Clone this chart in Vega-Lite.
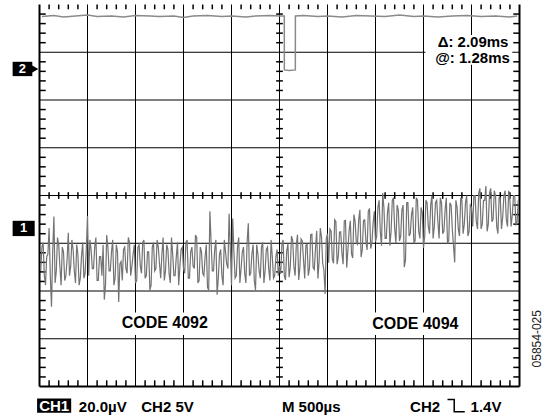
{
  "$schema": "https://vega.github.io/schema/vega-lite/v6.json",
  "width": 480,
  "height": 382,
  "autosize": "none",
  "padding": {"left": 39.5, "top": 4.5, "right": 24.5, "bottom": 30.5},
  "background": "#ffffff",
  "config": {"view": {"stroke": null}},
  "datasets": {
    "ch1": [
      {"x":0.025,"y":2.42},{"x":0.05,"y":2.92},{"x":0.075,"y":3.02},{"x":0.1,"y":2.32},{"x":0.125,"y":2.12},{"x":0.15,"y":2.72},{"x":0.175,"y":2.77},{"x":0.2,"y":3.32},{"x":0.225,"y":2.32},{"x":0.25,"y":1.67},
      {"x":0.275,"y":2.82},{"x":0.3,"y":3.56},{"x":0.325,"y":2.17},{"x":0.35,"y":2.42},{"x":0.375,"y":3.12},{"x":0.4,"y":2.97},{"x":0.425,"y":2.52},{"x":0.45,"y":2.12},{"x":0.475,"y":2.92},{"x":0.5,"y":2.82},
      {"x":0.525,"y":2.22},{"x":0.55,"y":2.32},{"x":0.575,"y":2.67},{"x":0.6,"y":3.22},{"x":0.625,"y":2.32},{"x":0.65,"y":2.52},{"x":0.675,"y":3.07},{"x":0.7,"y":2.87},{"x":0.725,"y":2.42},{"x":0.75,"y":2.17},
      {"x":0.775,"y":2.97},{"x":0.8,"y":2.77},{"x":0.825,"y":2.12},{"x":0.85,"y":2.27},{"x":0.875,"y":2.72},{"x":0.9,"y":3.02},{"x":0.925,"y":2.27},{"x":0.95,"y":2.37},{"x":0.975,"y":2.87},{"x":1.0,"y":3.57},
      {"x":1.025,"y":2.32},{"x":1.05,"y":3.07},{"x":1.075,"y":2.87},{"x":1.1,"y":2.47},{"x":1.125,"y":2.47},{"x":1.15,"y":2.92},{"x":1.175,"y":3.12},{"x":1.2,"y":2.22},{"x":1.225,"y":2.22},{"x":1.25,"y":2.72},
      {"x":1.275,"y":2.72},{"x":1.3,"y":2.32},{"x":1.325,"y":2.97},{"x":1.35,"y":1.82},{"x":1.375,"y":2.12},{"x":1.4,"y":3.17},{"x":1.425,"y":2.92},{"x":1.45,"y":2.42},{"x":1.475,"y":2.42},{"x":1.5,"y":2.82},
      {"x":1.525,"y":3.07},{"x":1.55,"y":2.12},{"x":1.575,"y":2.27},{"x":1.6,"y":2.97},{"x":1.625,"y":2.82},{"x":1.65,"y":1.77},{"x":1.675,"y":2.57},{"x":1.7,"y":2.62},{"x":1.725,"y":2.22},{"x":1.75,"y":2.87},
      {"x":1.775,"y":2.92},{"x":1.8,"y":2.47},{"x":1.825,"y":2.37},{"x":1.85,"y":3.12},{"x":1.875,"y":3.02},{"x":1.9,"y":2.32},{"x":1.925,"y":2.52},{"x":1.95,"y":2.77},{"x":1.975,"y":2.97},{"x":2.0,"y":2.17},
      {"x":2.025,"y":2.22},{"x":2.05,"y":2.92},{"x":2.075,"y":2.97},{"x":2.1,"y":2.52},{"x":2.125,"y":2.37},{"x":2.15,"y":3.02},{"x":2.175,"y":3.07},{"x":2.2,"y":2.27},{"x":2.225,"y":2.32},{"x":2.25,"y":2.82},
      {"x":2.275,"y":2.82},{"x":2.3,"y":2.02},{"x":2.325,"y":2.12},{"x":2.35,"y":2.92},{"x":2.375,"y":3.02},{"x":2.4,"y":2.42},{"x":2.425,"y":2.47},{"x":2.45,"y":3.07},{"x":2.475,"y":2.92},{"x":2.5,"y":2.57},
      {"x":2.525,"y":2.27},{"x":2.55,"y":2.77},{"x":2.575,"y":3.12},{"x":2.6,"y":2.22},{"x":2.625,"y":2.42},{"x":2.65,"y":2.97},{"x":2.675,"y":2.87},{"x":2.7,"y":2.37},{"x":2.725,"y":2.17},{"x":2.75,"y":3.12},
      {"x":2.775,"y":2.77},{"x":2.8,"y":2.32},{"x":2.825,"y":2.32},{"x":2.85,"y":2.72},{"x":2.875,"y":3.02},{"x":2.9,"y":2.12},{"x":2.925,"y":2.52},{"x":2.95,"y":2.87},{"x":2.975,"y":2.92},{"x":3.0,"y":2.47},
      {"x":3.025,"y":2.37},{"x":3.05,"y":3.02},{"x":3.075,"y":3.07},{"x":3.1,"y":2.27},{"x":3.125,"y":2.27},{"x":3.15,"y":2.82},{"x":3.175,"y":2.92},{"x":3.2,"y":2.52},{"x":3.225,"y":2.47},{"x":3.25,"y":3.17},
      {"x":3.275,"y":3.12},{"x":3.3,"y":2.17},{"x":3.325,"y":2.22},{"x":3.35,"y":2.92},{"x":3.375,"y":2.82},{"x":3.4,"y":2.37},{"x":3.425,"y":2.32},{"x":3.45,"y":2.72},{"x":3.475,"y":2.97},{"x":3.5,"y":2.07},
      {"x":3.525,"y":2.02},{"x":3.55,"y":3.67},{"x":3.575,"y":3.02},{"x":3.6,"y":2.42},{"x":3.625,"y":2.42},{"x":3.65,"y":2.87},{"x":3.675,"y":3.07},{"x":3.7,"y":1.92},{"x":3.725,"y":2.27},{"x":3.75,"y":2.77},
      {"x":3.775,"y":2.87},{"x":3.8,"y":2.32},{"x":3.825,"y":2.12},{"x":3.85,"y":3.07},{"x":3.875,"y":2.82},{"x":3.9,"y":2.57},{"x":3.925,"y":2.47},{"x":3.95,"y":3.62},{"x":3.975,"y":2.92},{"x":4.0,"y":2.12},
      {"x":4.025,"y":3.52},{"x":4.05,"y":2.82},{"x":4.075,"y":2.27},{"x":4.1,"y":2.32},{"x":4.125,"y":2.92},{"x":4.15,"y":3.12},{"x":4.175,"y":2.17},{"x":4.2,"y":2.47},{"x":4.225,"y":2.82},{"x":4.25,"y":2.92},
      {"x":4.275,"y":2.37},{"x":4.3,"y":2.17},{"x":4.325,"y":3.02},{"x":4.35,"y":3.42},{"x":4.375,"y":2.32},{"x":4.4,"y":2.37},{"x":4.425,"y":2.77},{"x":4.45,"y":2.97},{"x":4.475,"y":2.22},{"x":4.5,"y":2.02},
      {"x":4.525,"y":2.97},{"x":4.55,"y":2.77},{"x":4.575,"y":2.42},{"x":4.6,"y":2.27},{"x":4.625,"y":2.92},{"x":4.65,"y":3.02},{"x":4.675,"y":2.17},{"x":4.7,"y":2.42},{"x":4.725,"y":2.87},{"x":4.75,"y":2.92},
      {"x":4.775,"y":2.47},{"x":4.8,"y":2.22},{"x":4.825,"y":3.07},{"x":4.85,"y":2.72},{"x":4.875,"y":2.27},{"x":4.9,"y":2.32},{"x":4.925,"y":2.72},{"x":4.95,"y":2.87},{"x":4.975,"y":2.32},{"x":5.0,"y":2.52},
      {"x":5.025,"y":2.36},{"x":5.05,"y":2.96},{"x":5.075,"y":3.07},{"x":5.1,"y":2.32},{"x":5.125,"y":2.23},{"x":5.15,"y":2.83},{"x":5.175,"y":2.99},{"x":5.2,"y":2.29},{"x":5.225,"y":2.5},{"x":5.25,"y":3.15},
      {"x":5.275,"y":3.06},{"x":5.3,"y":2.51},{"x":5.325,"y":2.32},{"x":5.35,"y":2.97},{"x":5.375,"y":3.18},{"x":5.4,"y":2.23},{"x":5.425,"y":2.49},{"x":5.45,"y":3.09},{"x":5.475,"y":3.05},{"x":5.5,"y":2.65},
      {"x":5.525,"y":2.26},{"x":5.55,"y":2.96},{"x":5.575,"y":2.97},{"x":5.6,"y":2.32},{"x":5.625,"y":2.48},{"x":5.65,"y":3.18},{"x":5.675,"y":3.19},{"x":5.7,"y":2.49},{"x":5.725,"y":2.45},{"x":5.75,"y":2.9},
      {"x":5.775,"y":3.26},{"x":5.8,"y":2.26},{"x":5.825,"y":2.62},{"x":5.85,"y":3.32},{"x":5.875,"y":3.13},{"x":5.9,"y":2.58},{"x":5.925,"y":2.44},{"x":5.95,"y":1.94},{"x":5.975,"y":3.1},{"x":6.0,"y":3.2},
      {"x":6.025,"y":2.59},{"x":6.05,"y":3.3},{"x":6.075,"y":3.26},{"x":6.1,"y":2.67},{"x":6.125,"y":2.58},{"x":6.15,"y":3.49},{"x":6.175,"y":3.45},{"x":6.2,"y":2.56},{"x":6.225,"y":2.72},{"x":6.25,"y":3.23},
      {"x":6.275,"y":3.24},{"x":6.3,"y":2.8},{"x":6.325,"y":2.56},{"x":6.35,"y":3.47},{"x":6.375,"y":3.48},{"x":6.4,"y":2.49},{"x":6.425,"y":2.85},{"x":6.45,"y":3.26},{"x":6.475,"y":3.47},{"x":6.5,"y":2.78},
      {"x":6.525,"y":2.69},{"x":6.55,"y":3.6},{"x":6.575,"y":3.46},{"x":6.6,"y":3.02},{"x":6.625,"y":2.98},{"x":6.65,"y":3.49},{"x":6.675,"y":3.7},{"x":6.7,"y":2.71},{"x":6.725,"y":2.87},{"x":6.75,"y":3.48},
      {"x":6.775,"y":3.49},{"x":6.8,"y":3.05},{"x":6.825,"y":2.86},{"x":6.85,"y":3.67},{"x":6.875,"y":3.73},{"x":6.9,"y":2.89},{"x":6.925,"y":3.0},{"x":6.95,"y":3.41},{"x":6.975,"y":3.67},{"x":7.0,"y":3.03},
      {"x":7.025,"y":3.15},{"x":7.05,"y":3.75},{"x":7.075,"y":3.9},{"x":7.1,"y":3.25},{"x":7.125,"y":2.95},{"x":7.15,"y":4.05},{"x":7.175,"y":3.75},{"x":7.2,"y":3.1},{"x":7.225,"y":3.1},{"x":7.25,"y":3.65},
      {"x":7.275,"y":3.85},{"x":7.3,"y":2.95},{"x":7.325,"y":3.25},{"x":7.35,"y":3.9},{"x":7.375,"y":3.95},{"x":7.4,"y":3.3},{"x":7.425,"y":3.0},{"x":7.45,"y":3.8},{"x":7.475,"y":3.7},{"x":7.5,"y":3.05},
      {"x":7.525,"y":3.15},{"x":7.55,"y":3.7},{"x":7.575,"y":3.8},{"x":7.6,"y":2.5},{"x":7.625,"y":2.65},{"x":7.65,"y":3.85},{"x":7.675,"y":3.85},{"x":7.7,"y":3.15},{"x":7.725,"y":3.2},{"x":7.75,"y":3.6},
      {"x":7.775,"y":3.75},{"x":7.8,"y":3.0},{"x":7.825,"y":3.05},{"x":7.85,"y":3.95},{"x":7.875,"y":3.9},{"x":7.9,"y":3.25},{"x":7.925,"y":3.1},{"x":7.95,"y":3.75},{"x":7.975,"y":3.65},{"x":8.0,"y":2.9},
      {"x":8.025,"y":3.15},{"x":8.05,"y":3.9},{"x":8.075,"y":3.85},{"x":8.1,"y":3.35},{"x":8.125,"y":3.2},{"x":8.15,"y":3.8},{"x":8.175,"y":4.0},{"x":8.2,"y":3.1},{"x":8.225,"y":3.35},{"x":8.25,"y":3.85},
      {"x":8.275,"y":3.9},{"x":8.3,"y":3.45},{"x":8.325,"y":3.1},{"x":8.35,"y":3.95},{"x":8.375,"y":3.85},{"x":8.4,"y":3.2},{"x":8.425,"y":3.25},{"x":8.45,"y":3.7},{"x":8.475,"y":3.95},{"x":8.5,"y":3.0},
      {"x":8.525,"y":3.05},{"x":8.55,"y":3.85},{"x":8.575,"y":3.8},{"x":8.6,"y":3.3},{"x":8.625,"y":2.95},{"x":8.65,"y":2.6},{"x":8.675,"y":3.9},{"x":8.7,"y":3.75},{"x":8.725,"y":3.3},{"x":8.75,"y":3.15},
      {"x":8.775,"y":3.95},{"x":8.8,"y":3.9},{"x":8.825,"y":3.2},{"x":8.85,"y":3.4},{"x":8.875,"y":3.85},{"x":8.9,"y":4.0},{"x":8.925,"y":3.15},{"x":8.95,"y":3.25},{"x":8.975,"y":3.8},{"x":9.0,"y":3.75},
      {"x":9.025,"y":3.35},{"x":9.05,"y":4.0},{"x":9.075,"y":4.0},{"x":9.1,"y":3.45},{"x":9.125,"y":3.3},{"x":9.15,"y":4.05},{"x":9.175,"y":4.15},{"x":9.2,"y":3.3},{"x":9.225,"y":3.4},{"x":9.25,"y":3.9},
      {"x":9.275,"y":3.9},{"x":9.3,"y":4.2},{"x":9.325,"y":3.25},{"x":9.35,"y":3.4},{"x":9.375,"y":4.05},{"x":9.4,"y":4.15},{"x":9.425,"y":3.45},{"x":9.45,"y":3.5},{"x":9.475,"y":4.1},{"x":9.5,"y":4.0},
      {"x":9.525,"y":3.35},{"x":9.55,"y":3.2},{"x":9.575,"y":3.95},{"x":9.6,"y":3.95},{"x":9.625,"y":3.3},{"x":9.65,"y":3.55},{"x":9.675,"y":4.0},{"x":9.7,"y":4.1},{"x":9.725,"y":3.5},{"x":9.75,"y":3.35},
      {"x":9.775,"y":4.1},{"x":9.8,"y":3.9},{"x":9.825,"y":3.35},{"x":9.85,"y":3.6},{"x":9.875,"y":4.0},{"x":9.9,"y":4.0},{"x":9.925,"y":3.4},{"x":9.95,"y":3.45},{"x":9.975,"y":3.9}
    ],
    "ch2": [
      {"x":0.05,"y":7.75},{"x":0.3,"y":7.77},{"x":0.5,"y":7.74},{"x":0.75,"y":7.76},{"x":1.0,"y":7.78},{"x":1.2,"y":7.75},{"x":1.5,"y":7.76},{"x":1.75,"y":7.74},{"x":2.0,"y":7.77},{"x":2.3,"y":7.76},
      {"x":2.5,"y":7.75},{"x":2.8,"y":7.76},{"x":3.0,"y":7.73},{"x":3.2,"y":7.76},{"x":3.5,"y":7.77},{"x":3.8,"y":7.75},{"x":4.0,"y":7.76},{"x":4.3,"y":7.74},{"x":4.5,"y":7.76},{"x":4.8,"y":7.77},
      {"x":5.0,"y":7.76},{"x":5.1,"y":7.76},{"x":5.101,"y":6.63},{"x":5.2,"y":6.62},{"x":5.33,"y":6.63},{"x":5.331,"y":7.76},{"x":5.5,"y":7.77},{"x":5.8,"y":7.75},{"x":6.0,"y":7.76},{"x":6.3,"y":7.74},
      {"x":6.6,"y":7.77},{"x":6.9,"y":7.76},{"x":7.2,"y":7.75},{"x":7.5,"y":7.78},{"x":7.8,"y":7.75},{"x":8.0,"y":7.76},{"x":8.3,"y":7.74},{"x":8.6,"y":7.76},{"x":8.9,"y":7.77},{"x":9.2,"y":7.75},
      {"x":9.5,"y":7.76},{"x":9.8,"y":7.74},{"x":9.95,"y":7.76}
    ]
  },
  "encoding": {
    "x": {"field": "x", "type": "quantitative", "scale": {"domain": [0, 10], "nice": false, "zero": false}, "axis": null},
    "y": {"field": "y", "type": "quantitative", "scale": {"domain": [0, 8], "nice": false, "zero": false}, "axis": null}
  },
  "layer": [
    {
      "data": {"values": [{"x":1,"y":0,"y2":8},{"x":2,"y":0,"y2":8},{"x":3,"y":0,"y2":8},{"x":4,"y":0,"y2":8},{"x":5,"y":0,"y2":8},{"x":6,"y":0,"y2":8},{"x":7,"y":0,"y2":8},{"x":8,"y":0,"y2":8},{"x":9,"y":0,"y2":8}]},
      "mark": {"type": "rule", "color": "#000000", "strokeWidth": 1},
      "encoding": {"y2": {"field": "y2"}}
    },
    {
      "data": {"values": [{"x":0,"x2":10,"y":1},{"x":0,"x2":10,"y":2},{"x":0,"x2":10,"y":3},{"x":0,"x2":10,"y":4},{"x":0,"x2":10,"y":5},{"x":0,"x2":10,"y":6},{"x":0,"x2":10,"y":7}]},
      "mark": {"type": "rule", "color": "#000000", "strokeWidth": 1},
      "encoding": {"x2": {"field": "x2"}}
    },
    {
      "data": {"values": [
        {"x":0.2,"y":0,"y2":0.13},{"x":0.4,"y":0,"y2":0.13},{"x":0.6,"y":0,"y2":0.13},{"x":0.8,"y":0,"y2":0.13},{"x":1.2,"y":0,"y2":0.13},{"x":1.4,"y":0,"y2":0.13},{"x":1.6,"y":0,"y2":0.13},{"x":1.8,"y":0,"y2":0.13},
        {"x":2.2,"y":0,"y2":0.13},{"x":2.4,"y":0,"y2":0.13},{"x":2.6,"y":0,"y2":0.13},{"x":2.8,"y":0,"y2":0.13},{"x":3.2,"y":0,"y2":0.13},{"x":3.4,"y":0,"y2":0.13},{"x":3.6,"y":0,"y2":0.13},{"x":3.8,"y":0,"y2":0.13},
        {"x":4.2,"y":0,"y2":0.13},{"x":4.4,"y":0,"y2":0.13},{"x":4.6,"y":0,"y2":0.13},{"x":4.8,"y":0,"y2":0.13},{"x":5.2,"y":0,"y2":0.13},{"x":5.4,"y":0,"y2":0.13},{"x":5.6,"y":0,"y2":0.13},{"x":5.8,"y":0,"y2":0.13},
        {"x":6.2,"y":0,"y2":0.13},{"x":6.4,"y":0,"y2":0.13},{"x":6.6,"y":0,"y2":0.13},{"x":6.8,"y":0,"y2":0.13},{"x":7.2,"y":0,"y2":0.13},{"x":7.4,"y":0,"y2":0.13},{"x":7.6,"y":0,"y2":0.13},{"x":7.8,"y":0,"y2":0.13},
        {"x":8.2,"y":0,"y2":0.13},{"x":8.4,"y":0,"y2":0.13},{"x":8.6,"y":0,"y2":0.13},{"x":8.8,"y":0,"y2":0.13},{"x":9.2,"y":0,"y2":0.13},{"x":9.4,"y":0,"y2":0.13},{"x":9.6,"y":0,"y2":0.13},{"x":9.8,"y":0,"y2":0.13},
        {"x":0.2,"y":7.9,"y2":8},{"x":0.4,"y":7.9,"y2":8},{"x":0.6,"y":7.9,"y2":8},{"x":0.8,"y":7.9,"y2":8},{"x":1.2,"y":7.9,"y2":8},{"x":1.4,"y":7.9,"y2":8},{"x":1.6,"y":7.9,"y2":8},{"x":1.8,"y":7.9,"y2":8},
        {"x":2.2,"y":7.9,"y2":8},{"x":2.4,"y":7.9,"y2":8},{"x":2.6,"y":7.9,"y2":8},{"x":2.8,"y":7.9,"y2":8},{"x":3.2,"y":7.9,"y2":8},{"x":3.4,"y":7.9,"y2":8},{"x":3.6,"y":7.9,"y2":8},{"x":3.8,"y":7.9,"y2":8},
        {"x":4.2,"y":7.9,"y2":8},{"x":4.4,"y":7.9,"y2":8},{"x":4.6,"y":7.9,"y2":8},{"x":4.8,"y":7.9,"y2":8},{"x":5.2,"y":7.9,"y2":8},{"x":5.4,"y":7.9,"y2":8},{"x":5.6,"y":7.9,"y2":8},{"x":5.8,"y":7.9,"y2":8},
        {"x":6.2,"y":7.9,"y2":8},{"x":6.4,"y":7.9,"y2":8},{"x":6.6,"y":7.9,"y2":8},{"x":6.8,"y":7.9,"y2":8},{"x":7.2,"y":7.9,"y2":8},{"x":7.4,"y":7.9,"y2":8},{"x":7.6,"y":7.9,"y2":8},{"x":7.8,"y":7.9,"y2":8},
        {"x":8.2,"y":7.9,"y2":8},{"x":8.4,"y":7.9,"y2":8},{"x":8.6,"y":7.9,"y2":8},{"x":8.8,"y":7.9,"y2":8},{"x":9.2,"y":7.9,"y2":8},{"x":9.4,"y":7.9,"y2":8},{"x":9.6,"y":7.9,"y2":8},{"x":9.8,"y":7.9,"y2":8},
        {"x":0.2,"y":3.93,"y2":4.07},{"x":0.4,"y":3.93,"y2":4.07},{"x":0.6,"y":3.93,"y2":4.07},{"x":0.8,"y":3.93,"y2":4.07},{"x":1.2,"y":3.93,"y2":4.07},{"x":1.4,"y":3.93,"y2":4.07},{"x":1.6,"y":3.93,"y2":4.07},{"x":1.8,"y":3.93,"y2":4.07},
        {"x":2.2,"y":3.93,"y2":4.07},{"x":2.4,"y":3.93,"y2":4.07},{"x":2.6,"y":3.93,"y2":4.07},{"x":2.8,"y":3.93,"y2":4.07},{"x":3.2,"y":3.93,"y2":4.07},{"x":3.4,"y":3.93,"y2":4.07},{"x":3.6,"y":3.93,"y2":4.07},{"x":3.8,"y":3.93,"y2":4.07},
        {"x":4.2,"y":3.93,"y2":4.07},{"x":4.4,"y":3.93,"y2":4.07},{"x":4.6,"y":3.93,"y2":4.07},{"x":4.8,"y":3.93,"y2":4.07},{"x":5.2,"y":3.93,"y2":4.07},{"x":5.4,"y":3.93,"y2":4.07},{"x":5.6,"y":3.93,"y2":4.07},{"x":5.8,"y":3.93,"y2":4.07},
        {"x":6.2,"y":3.93,"y2":4.07},{"x":6.4,"y":3.93,"y2":4.07},{"x":6.6,"y":3.93,"y2":4.07},{"x":6.8,"y":3.93,"y2":4.07},{"x":7.2,"y":3.93,"y2":4.07},{"x":7.4,"y":3.93,"y2":4.07},{"x":7.6,"y":3.93,"y2":4.07},{"x":7.8,"y":3.93,"y2":4.07},
        {"x":8.2,"y":3.93,"y2":4.07},{"x":8.4,"y":3.93,"y2":4.07},{"x":8.6,"y":3.93,"y2":4.07},{"x":8.8,"y":3.93,"y2":4.07},{"x":9.2,"y":3.93,"y2":4.07},{"x":9.4,"y":3.93,"y2":4.07},{"x":9.6,"y":3.93,"y2":4.07},{"x":9.8,"y":3.93,"y2":4.07}
      ]},
      "mark": {"type": "rule", "color": "#000000", "strokeWidth": 1.5},
      "encoding": {"y2": {"field": "y2"}}
    },
    {
      "data": {"values": [
        {"x":0,"x2":0.13,"y":0.2},{"x":0,"x2":0.13,"y":0.4},{"x":0,"x2":0.13,"y":0.6},{"x":0,"x2":0.13,"y":0.8},{"x":0,"x2":0.13,"y":1.2},{"x":0,"x2":0.13,"y":1.4},{"x":0,"x2":0.13,"y":1.6},{"x":0,"x2":0.13,"y":1.8},
        {"x":0,"x2":0.13,"y":2.2},{"x":0,"x2":0.13,"y":2.4},{"x":0,"x2":0.13,"y":2.6},{"x":0,"x2":0.13,"y":2.8},{"x":0,"x2":0.13,"y":3.2},{"x":0,"x2":0.13,"y":3.4},{"x":0,"x2":0.13,"y":3.6},{"x":0,"x2":0.13,"y":3.8},
        {"x":0,"x2":0.13,"y":4.2},{"x":0,"x2":0.13,"y":4.4},{"x":0,"x2":0.13,"y":4.6},{"x":0,"x2":0.13,"y":4.8},{"x":0,"x2":0.13,"y":5.2},{"x":0,"x2":0.13,"y":5.4},{"x":0,"x2":0.13,"y":5.6},{"x":0,"x2":0.13,"y":5.8},
        {"x":0,"x2":0.13,"y":6.2},{"x":0,"x2":0.13,"y":6.4},{"x":0,"x2":0.13,"y":6.6},{"x":0,"x2":0.13,"y":6.8},{"x":0,"x2":0.13,"y":7.2},{"x":0,"x2":0.13,"y":7.4},{"x":0,"x2":0.13,"y":7.6},{"x":0,"x2":0.13,"y":7.8},
        {"x":9.87,"x2":10,"y":0.2},{"x":9.87,"x2":10,"y":0.4},{"x":9.87,"x2":10,"y":0.6},{"x":9.87,"x2":10,"y":0.8},{"x":9.87,"x2":10,"y":1.2},{"x":9.87,"x2":10,"y":1.4},{"x":9.87,"x2":10,"y":1.6},{"x":9.87,"x2":10,"y":1.8},
        {"x":9.87,"x2":10,"y":2.2},{"x":9.87,"x2":10,"y":2.4},{"x":9.87,"x2":10,"y":2.6},{"x":9.87,"x2":10,"y":2.8},{"x":9.87,"x2":10,"y":3.2},{"x":9.87,"x2":10,"y":3.4},{"x":9.87,"x2":10,"y":3.6},{"x":9.87,"x2":10,"y":3.8},
        {"x":9.87,"x2":10,"y":4.2},{"x":9.87,"x2":10,"y":4.4},{"x":9.87,"x2":10,"y":4.6},{"x":9.87,"x2":10,"y":4.8},{"x":9.87,"x2":10,"y":5.2},{"x":9.87,"x2":10,"y":5.4},{"x":9.87,"x2":10,"y":5.6},{"x":9.87,"x2":10,"y":5.8},
        {"x":9.87,"x2":10,"y":6.2},{"x":9.87,"x2":10,"y":6.4},{"x":9.87,"x2":10,"y":6.6},{"x":9.87,"x2":10,"y":6.8},{"x":9.87,"x2":10,"y":7.2},{"x":9.87,"x2":10,"y":7.4},{"x":9.87,"x2":10,"y":7.6},{"x":9.87,"x2":10,"y":7.8},
        {"x":4.93,"x2":5.07,"y":0.2},{"x":4.93,"x2":5.07,"y":0.4},{"x":4.93,"x2":5.07,"y":0.6},{"x":4.93,"x2":5.07,"y":0.8},{"x":4.93,"x2":5.07,"y":1.2},{"x":4.93,"x2":5.07,"y":1.4},{"x":4.93,"x2":5.07,"y":1.6},{"x":4.93,"x2":5.07,"y":1.8},
        {"x":4.93,"x2":5.07,"y":2.2},{"x":4.93,"x2":5.07,"y":2.4},{"x":4.93,"x2":5.07,"y":2.6},{"x":4.93,"x2":5.07,"y":2.8},{"x":4.93,"x2":5.07,"y":3.2},{"x":4.93,"x2":5.07,"y":3.4},{"x":4.93,"x2":5.07,"y":3.6},{"x":4.93,"x2":5.07,"y":3.8},
        {"x":4.93,"x2":5.07,"y":4.2},{"x":4.93,"x2":5.07,"y":4.4},{"x":4.93,"x2":5.07,"y":4.6},{"x":4.93,"x2":5.07,"y":4.8},{"x":4.93,"x2":5.07,"y":5.2},{"x":4.93,"x2":5.07,"y":5.4},{"x":4.93,"x2":5.07,"y":5.6},{"x":4.93,"x2":5.07,"y":5.8},
        {"x":4.93,"x2":5.07,"y":6.2},{"x":4.93,"x2":5.07,"y":6.4},{"x":4.93,"x2":5.07,"y":6.6},{"x":4.93,"x2":5.07,"y":6.8},{"x":4.93,"x2":5.07,"y":7.2},{"x":4.93,"x2":5.07,"y":7.4},{"x":4.93,"x2":5.07,"y":7.6},{"x":4.93,"x2":5.07,"y":7.8}
      ]},
      "mark": {"type": "rule", "color": "#000000", "strokeWidth": 1.5},
      "encoding": {"x2": {"field": "x2"}}
    },
    {
      "data": {"values": [{"x":0,"y":0,"y2":8},{"x":10,"y":0,"y2":8}]},
      "mark": {"type": "rule", "color": "#000000", "strokeWidth": 2},
      "encoding": {"y2": {"field": "y2"}}
    },
    {
      "data": {"values": [{"x":0,"x2":10,"y":0}]},
      "mark": {"type": "rule", "color": "#000000", "strokeWidth": 2},
      "encoding": {"x2": {"field": "x2"}}
    },
    {
      "data": {"values": [{"x":1.67,"x2":3.57,"y":1.08,"y2":1.55},{"x":6.89,"x2":8.77,"y":1.08,"y2":1.55},{"x":8.04,"x2":9.85,"y":6.74,"y2":7.36}]},
      "mark": {"type": "rect", "color": "#ffffff", "opacity": 1},
      "encoding": {"x2": {"field": "x2"}, "y2": {"field": "y2"}}
    },
    {
      "data": {"name": "ch2"},
      "mark": {"type": "line", "color": "#8a8a8a", "strokeWidth": 1.5, "strokeJoin": "miter"}
    },
    {
      "data": {"name": "ch1"},
      "mark": {"type": "line", "color": "#737373", "strokeWidth": 1.2, "strokeJoin": "miter"}
    },
    {
      "data": {"values": [{"x":-0.56,"x2":-0.15,"y":6.8,"y2":6.5},{"x":-0.56,"x2":-0.1,"y":3.47,"y2":3.15},{"x":-0.05,"x2":0.66,"y":-0.25,"y2":-0.55}]},
      "mark": {"type": "rect", "color": "#000000", "opacity": 1},
      "encoding": {"x2": {"field": "x2"}, "y2": {"field": "y2"}}
    },
    {
      "data": {"values": [{"x":-0.11,"y":6.65}]},
      "mark": {"type": "point", "shape": "triangle-right", "filled": true, "color": "#000000", "opacity": 1, "size": 90}
    },
    {
      "data": {"values": [{"x":-0.355,"y":6.65,"t":"2"},{"x":-0.33,"y":3.31,"t":"1"}]},
      "mark": {"type": "text", "color": "#ffffff", "font": "Liberation Sans", "fontWeight": "bold", "fontSize": 13, "align": "center", "baseline": "middle"},
      "encoding": {"text": {"field": "t"}}
    },
    {
      "data": {"values": [{"x":0.305,"y":-0.41,"t":"CH1"}]},
      "mark": {"type": "text", "color": "#ffffff", "font": "Liberation Sans", "fontWeight": "bold", "fontSize": 15, "align": "center", "baseline": "middle"},
      "encoding": {"text": {"field": "t"}}
    },
    {
      "data": {"values": [{"x":0.82,"y":-0.42,"t":"20.0µV"},{"x":2.12,"y":-0.42,"t":"CH2 5V"},{"x":5.05,"y":-0.42,"t":"M 500µs"},{"x":7.72,"y":-0.42,"t":"CH2"},{"x":8.98,"y":-0.42,"t":"1.4V"}]},
      "mark": {"type": "text", "color": "#000000", "font": "Liberation Sans", "fontWeight": "bold", "fontSize": 15, "align": "left", "baseline": "middle"},
      "encoding": {"text": {"field": "t"}}
    },
    {
      "data": {"values": [{"i":1,"x":8.5,"y":-0.27},{"i":2,"x":8.64,"y":-0.27},{"i":3,"x":8.64,"y":-0.53},{"i":4,"x":8.86,"y":-0.53}]},
      "mark": {"type": "line", "color": "#000000", "strokeWidth": 1.5, "clip": false},
      "encoding": {"order": {"field": "i"}}
    },
    {
      "data": {"values": [{"x":9.77,"y":7.22,"t":"Δ: 2.09ms"},{"x":9.8,"y":6.88,"t":"@: 1.28ms"}]},
      "mark": {"type": "text", "color": "#000000", "font": "Liberation Sans", "fontWeight": "bold", "fontSize": 15, "align": "right", "baseline": "middle"},
      "encoding": {"text": {"field": "t"}}
    },
    {
      "data": {"values": [{"x":2.61,"y":1.32,"t":"CODE 4092"},{"x":7.83,"y":1.3,"t":"CODE 4094"}]},
      "mark": {"type": "text", "color": "#000000", "font": "Liberation Sans", "fontWeight": "bold", "fontSize": 16, "align": "center", "baseline": "middle"},
      "encoding": {"text": {"field": "t"}}
    },
    {
      "data": {"values": [{"x":10.36,"y":1.0,"t":"05854-025"}]},
      "mark": {"type": "text", "color": "#222222", "font": "Liberation Sans", "fontSize": 12, "angle": 270, "align": "center", "baseline": "middle"},
      "encoding": {"text": {"field": "t"}}
    }
  ]
}
